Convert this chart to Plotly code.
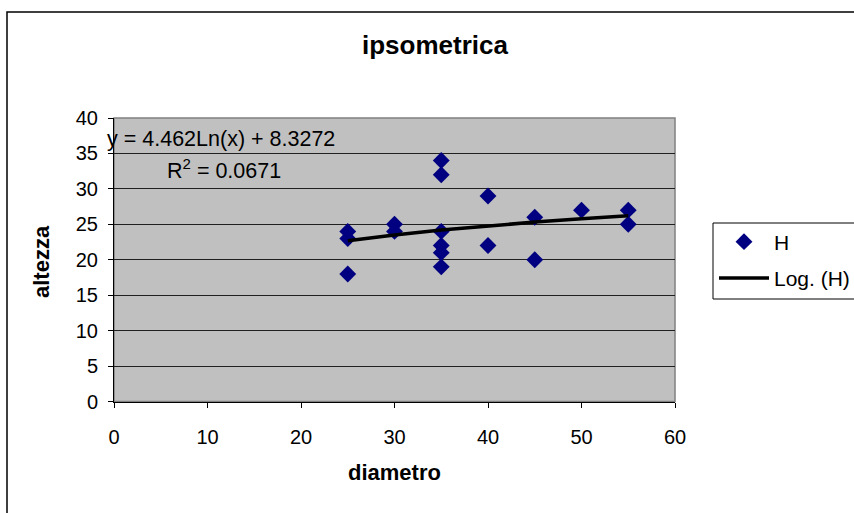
import numpy as np
import plotly.graph_objects as go

# ---- data ----
diametro = [25, 25, 25, 30, 30, 35, 35, 35, 35, 35, 35, 40, 40, 45, 45, 50, 55, 55]
altezza = [24, 23, 18, 25, 24, 34, 32, 24, 22, 21, 19, 29, 22, 26, 20, 27, 27, 25]

trend_a = 4.462
trend_b = 8.3272
r_squared = 0.0671

x_ticks = [0, 10, 20, 30, 40, 50, 60]
y_ticks = [0, 5, 10, 15, 20, 25, 30, 35, 40]

title_text = "ipsometrica"
x_title = "diametro"
y_title = "altezza"
series_name = "H"
trend_name = "Log. (H)"

# trendline evaluated from the displayed equation at the observed diameters
trend_x = np.unique(diametro)
trend_y = trend_a * np.log(trend_x) + trend_b

W, H = 854, 513
def px(p):
    return p / W
def py(p):
    return 1 - p / H

FONT = "Liberation Sans, Arial, sans-serif"

fig = go.Figure()
fig.add_trace(go.Scatter(
    x=diametro, y=altezza, mode="markers", name=series_name,
    marker=dict(symbol="diamond", size=13, color="#000080"),
    legendgroup="a",
))
fig.add_trace(go.Scatter(
    x=trend_x, y=trend_y, mode="lines", name=trend_name,
    line=dict(color="black", width=3.5),
    legendgroup="b",
))

fig.update_layout(
    width=W, height=H, autosize=False,
    margin=dict(l=0, r=0, t=0, b=0, autoexpand=False),
    paper_bgcolor="white",
    plot_bgcolor="#C0C0C0",
    font=dict(family=FONT, size=20, color="black"),
    title=dict(text="<b>" + title_text + "</b>", x=px(435), xanchor="center",
               y=py(45), yanchor="middle", font=dict(size=26, family=FONT)),
    showlegend=True,
    legend=dict(x=px(714), xanchor="left", y=py(221.5), yanchor="top",
                borderwidth=0, bgcolor="rgba(255,255,255,0)",
                font=dict(size=21, family=FONT), tracegroupgap=6,
                itemwidth=50),
    xaxis=dict(domain=[px(114), px(675)], range=[0, 60], tickvals=x_ticks,
               ticks="outside", ticklen=5, tickcolor="black", showgrid=False,
               showline=True, linecolor="black", linewidth=1, zeroline=False,
               ticklabelstandoff=12, tickfont=dict(size=20)),
    yaxis=dict(domain=[py(401.5), py(118)], range=[0, 40], tickvals=y_ticks,
               ticks="outside", ticklen=5, tickcolor="black", showgrid=True,
               gridcolor="#202020", gridwidth=1,
               showline=True, linecolor="black", linewidth=1, zeroline=False,
               ticklabelstandoff=6, tickfont=dict(size=20)),
    shapes=[
        dict(type="rect", xref="x domain", yref="y domain", x0=0, x1=1, y0=0, y1=1,
             line=dict(color="#808080", width=1.5), layer="below"),
        dict(type="rect", xref="paper", yref="paper", x0=px(7), x1=px(900),
             y0=py(560), y1=py(12), line=dict(color="black", width=1.5)),
        dict(type="rect", xref="paper", yref="paper", x0=px(713), x1=px(900),
             y0=py(299), y1=py(223), line=dict(color="black", width=1)),
    ],
    annotations=[
        dict(text="<b>" + x_title + "</b>", xref="paper", yref="paper",
             x=px(394.5), y=py(472), xanchor="center", yanchor="middle",
             showarrow=False, font=dict(size=22)),
        dict(text="<b>" + y_title + "</b>", xref="paper", yref="paper",
             x=px(41), y=py(262), xanchor="center", yanchor="middle",
             textangle=-90, showarrow=False, font=dict(size=22)),
        dict(text="y = %sLn(x) + %s" % (trend_a, trend_b), xref="paper", yref="paper",
             x=px(105), y=py(139), xanchor="left", yanchor="middle",
             showarrow=False, font=dict(size=21.5)),
        dict(text="R<sup>2</sup> = %s" % r_squared, xref="paper", yref="paper",
             x=px(165), y=py(169), xanchor="left", yanchor="middle",
             showarrow=False, font=dict(size=21.5)),
    ],
)

fig.write_html(
    "out.html",
    config={"displayModeBar": False},
    post_script="document.body.style.margin='0';document.body.style.overflow='hidden';",
)
